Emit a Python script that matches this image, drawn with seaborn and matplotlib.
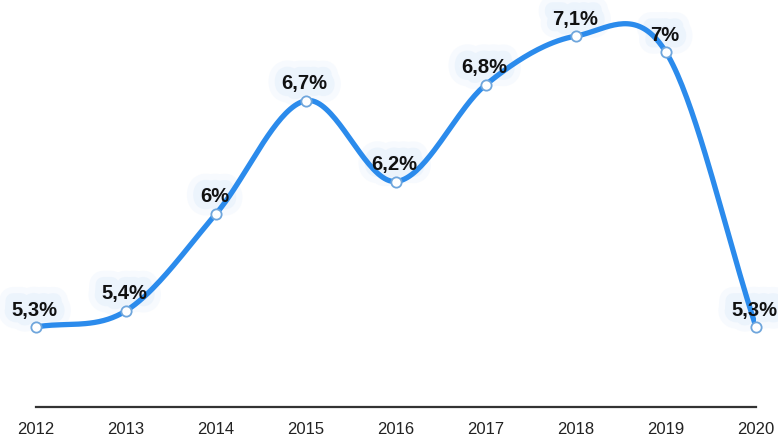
import numpy as np
import pandas as pd
import matplotlib
matplotlib.use("Agg")
import matplotlib.pyplot as plt
import matplotlib.patheffects as pe
import seaborn as sns

years = [2012, 2013, 2014, 2015, 2016, 2017, 2018, 2019, 2020]
rates = [5.3, 5.4, 6.0, 6.7, 6.2, 6.8, 7.1, 7.0, 5.3]
rate_labels = ["5,3%", "5,4%", "6%", "6,7%", "6,2%", "6,8%", "7,1%", "7%", "5,3%"]

LINE_BLUE = "#2b8bec"

sns.set_theme(style="white")
plt.rcParams["font.family"] = ["Liberation Sans", "DejaVu Sans"]

df = pd.DataFrame({"year": years, "rate": rates})


def smooth_curve(x, y, steps=40):
    """Cardinal (Catmull-Rom) spline through the given points."""
    x = np.asarray(x, float)
    y = np.asarray(y, float)
    n = len(x)
    m = np.zeros(n)
    for i in range(n):
        if i == 0:
            m[i] = (y[1] - y[0]) / (x[1] - x[0])
        elif i == n - 1:
            m[i] = (y[-1] - y[-2]) / (x[-1] - x[-2])
        else:
            m[i] = (y[i + 1] - y[i - 1]) / (x[i + 1] - x[i - 1])
    xs, ys = [], []
    for i in range(n - 1):
        h = x[i + 1] - x[i]
        t = np.linspace(0, 1, steps, endpoint=(i == n - 2))
        h00 = 2 * t**3 - 3 * t**2 + 1
        h10 = t**3 - 2 * t**2 + t
        h01 = -2 * t**3 + 3 * t**2
        h11 = t**3 - t**2
        xs.append(x[i] + t * h)
        ys.append(h00 * y[i] + h10 * h * m[i] + h01 * y[i + 1] + h11 * h * m[i + 1])
    return np.concatenate(xs), np.concatenate(ys)


fig = plt.figure(figsize=(7.78, 4.39), dpi=100)
ax = fig.add_axes([36 / 778, 31 / 439, 720 / 778, 408 / 439])

sx, sy = smooth_curve(df["year"], df["rate"])
curve = pd.DataFrame({"year": sx, "rate": sy})
sns.lineplot(data=curve, x="year", y="rate", ax=ax, color=LINE_BLUE,
             linewidth=3.8, sort=False, estimator=None, zorder=2)
sns.scatterplot(data=df, x="year", y="rate", ax=ax, s=55, color="white",
                edgecolor="#6fa6dc", linewidth=1.3, zorder=3, clip_on=False)

# soft halo behind each value label, kept under the line
glow = [pe.withStroke(linewidth=20, foreground="#f2f7fe", alpha=0.6),
        pe.withStroke(linewidth=11, foreground="#e6f0fc", alpha=0.6)]
for yr, val, lab in zip(years, rates, rate_labels):
    common = dict(xy=(yr, val), xytext=(-1, 6), textcoords="offset points",
                  ha="center", va="bottom", fontsize=14.5, fontweight="bold",
                  annotation_clip=False)
    ax.annotate(lab, color="#e6f0fc", path_effects=glow, zorder=1, **common)
    ax.annotate(lab, color="#111111", zorder=4, **common)

ax.set_xlim(2012, 2020)
ax.set_ylim(4.805, 7.329)
ax.set_xticks(years)
ax.set_xticklabels([str(y) for y in years], fontsize=12, color="#222222")
ax.set_yticks([])
ax.set_xlabel("")
ax.set_ylabel("")
ax.tick_params(axis="x", length=0, pad=10)
for side in ["top", "right", "left"]:
    ax.spines[side].set_visible(False)
ax.spines["bottom"].set_color("#333333")
ax.spines["bottom"].set_linewidth(1.6)

fig.savefig("out.png", dpi=100)
